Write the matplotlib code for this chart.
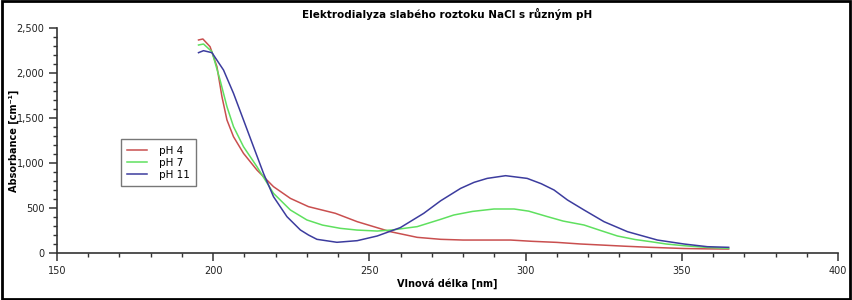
import matplotlib
matplotlib.use("Agg")
import matplotlib.pyplot as plt
from matplotlib.ticker import MultipleLocator, FuncFormatter
from matplotlib.patches import Rectangle

title = "Elektrodialyza slabého roztoku NaCl s různým pH"
xlabel = "Vlnová délka [nm]"
ylabel = "Absorbance [cm⁻¹]"
labels = ["pH 4", "pH 7", "pH 11"]
colors = ["#c94f4f", "#5fe05f", "#3c3c9e"]

wl_ph4 = [195.3, 196.7, 199.0, 201.2, 202.8, 204.4, 206.5, 209.7, 214.0, 219.3, 224.7,
          230.5, 232.7, 239.1, 246.1, 256.7, 265.3, 272.8, 280.0, 295.2, 302.0, 310.0,
          317.6, 324.0, 332.0, 340.0, 350.6, 358.0, 365.0]
ab_ph4 = [2367, 2378, 2292, 2070, 1737, 1478, 1292, 1107, 922, 737, 607,
          515, 496, 441, 348, 237, 174, 152, 144, 144, 130, 118,
          100, 89, 75, 63, 50, 46, 44]

wl_ph7 = [195.3, 196.9, 199.6, 202.2, 204.4, 206.5, 209.7, 214.0, 219.3, 224.7, 230.0,
          235.0, 240.7, 246.0, 252.5, 257.3, 265.3, 272.8, 277.0, 283.0, 289.9, 296.3,
          301.0, 307.0, 312.0, 318.7, 324.0, 329.4, 335.0, 340.0, 345.0, 350.7, 358.0, 365.0]
ab_ph7 = [2311, 2322, 2237, 1922, 1626, 1404, 1181, 959, 663, 478, 367,
          310, 274, 255, 244, 256, 293, 374, 422, 462, 489, 489,
          465, 404, 355, 311, 250, 189, 150, 126, 100, 81, 62, 52]

wl_ph11 = [195.3, 196.9, 199.6, 203.3, 206.5, 209.7, 212.9, 216.1, 219.3, 223.6, 227.9,
           230.5, 233.2, 239.6, 246.1, 252.5, 259.9, 267.4, 272.8, 279.2, 283.5, 287.7,
           293.6, 300.5, 305.0, 309.1, 313.4, 318.7, 325.1, 332.6, 342.2, 350.7, 358.2, 365.0]
ab_ph11 = [2226, 2248, 2226, 2033, 1774, 1478, 1181, 885, 626, 404, 256,
           200, 152, 119, 137, 189, 282, 441, 580, 718, 785, 829,
           859, 829, 770, 700, 589, 478, 348, 237, 144, 100, 70, 63]

series = [(wl_ph4, ab_ph4), (wl_ph7, ab_ph7), (wl_ph11, ab_ph11)]

fig = plt.figure(figsize=(8.52, 3.0), dpi=100)
ax = fig.add_axes([57/852, 1-253/300, (838-57)/852, (253-28)/300])

for (x, y), lab, c in zip(series, labels, colors):
    ax.plot(x, y, color=c, lw=1.1, label=lab)

ax.set_xlim(150, 400)
ax.set_ylim(0, 2500)
ax.xaxis.set_major_locator(MultipleLocator(50))
ax.xaxis.set_minor_locator(MultipleLocator(10))
ax.yaxis.set_major_locator(MultipleLocator(500))
ax.yaxis.set_minor_locator(MultipleLocator(100))
ax.yaxis.set_major_formatter(FuncFormatter(lambda v, p: f"{int(v):,}"))

for s in ["top", "right"]:
    ax.spines[s].set_visible(False)
for s in ["left", "bottom"]:
    ax.spines[s].set_color("#333333")
    ax.spines[s].set_linewidth(1.2)
ax.tick_params(which="major", direction="out", length=6, width=1.1, color="#333333",
               labelsize=7, labelcolor="#222222", pad=3)
ax.tick_params(which="minor", direction="out", length=3, width=1.0, color="#333333")

ax.set_title(title, fontsize=7.5, fontweight="bold", pad=7)
ax.set_xlabel(xlabel, fontsize=7, fontweight="bold", labelpad=2)
ax.set_ylabel(ylabel, fontsize=7, fontweight="bold")
ax.yaxis.set_label_coords(-0.049, 0.5)

leg = ax.legend(loc="upper left", bbox_to_anchor=(0.075, 0.528), fontsize=7.5,
                frameon=True, fancybox=False, edgecolor="#555555",
                handlelength=1.9, borderpad=0.6, labelspacing=0.2, handletextpad=1.2)
leg.get_frame().set_linewidth(1.0)

fig.patches.append(Rectangle((0.002, 0.004), 0.996, 0.992, transform=fig.transFigure,
                             fill=False, edgecolor="black", linewidth=2))

fig.savefig("out.png", dpi=100)
